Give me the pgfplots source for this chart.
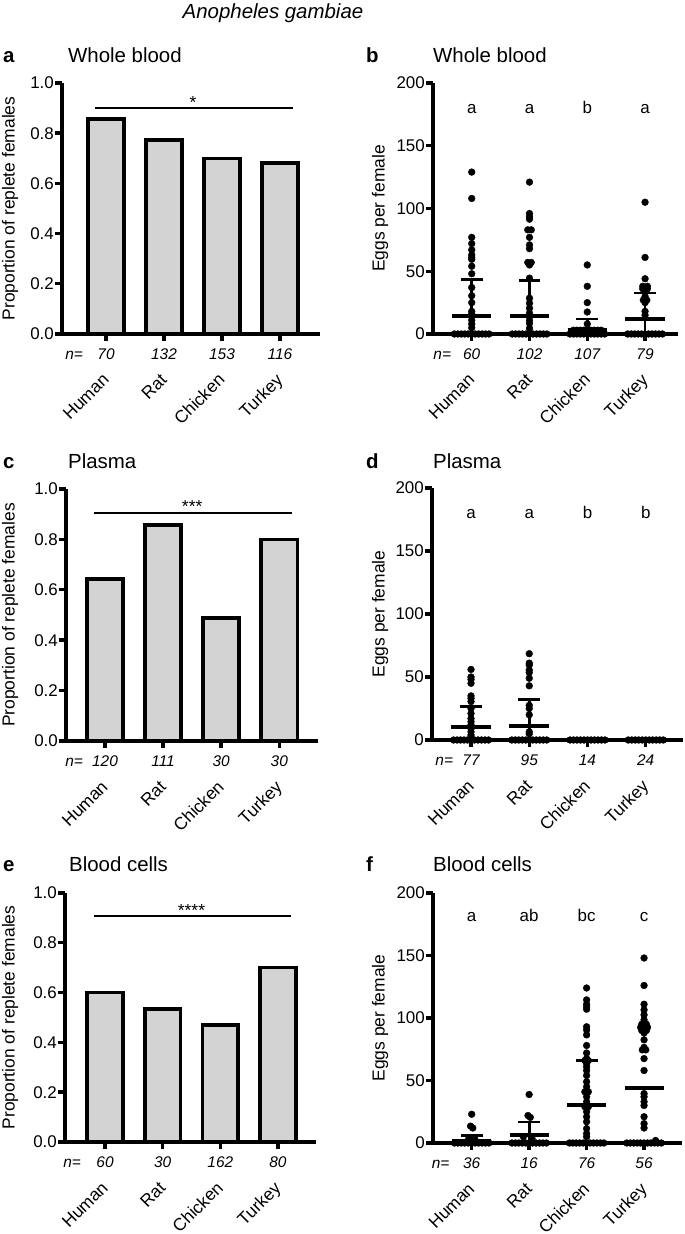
\documentclass[border=0pt]{standalone}
\usepackage{fontspec}
\setmainfont{Liberation Sans}
\usepackage{pgfplots}
\pgfplotsset{compat=1.18}
\definecolor{barfill}{RGB}{211,211,211}
\newcommand\tfont{\fontsize{17}{17}\selectfont}
\newcommand\lfont{\fontsize{17.5}{17.5}\selectfont}
\newcommand\nfont{\itshape\fontsize{15.5}{15.5}\selectfont}
\newcommand\ttlfont{\fontsize{20.5}{20.5}\selectfont}
\pgfplotsset{
 panel/.style={
  scale only axis, anchor=south west, axis lines=left,
  axis line style={line width=3.6bp, -},
  tick align=outside, major tick length=7bp,
  major tick style={black, line width=3.4bp},
  xtick={0,1,2,3}, xticklabels={Human,Rat,Chicken,Turkey},
  xticklabel style={font=\lfont, inner sep=0pt, xshift=4bp, yshift=-40bp, rotate=45, anchor=base east},
  yticklabel style={font=\tfont, inner sep=0pt, xshift=-1bp},
  ylabel style={font=\lfont, anchor=center},
  ymin=0, clip=false,
  /pgf/number format/assume math mode=true,
 },
 barpanel/.style={panel, ymax=1, ytick={0,0.2,0.4,0.6,0.8,1},
  yticklabel style={/pgf/number format/.cd, fixed, fixed zerofill, precision=1},
  ylabel={Proportion of replete females}},
 dotpanel/.style={panel, ymax=200, ytick={0,50,100,150,200}, ylabel={Eggs per female}},
 bars/.style={ybar, bar width=0.62, fill=barfill, draw=black, line width=3.6bp},
 dots/.style={only marks, mark=*, mark size=3.4bp, black},
 meanl/.style={black, line width=4bp, mark=none},
 sdl/.style={black, line width=2.8bp, mark=none},
 sigl/.style={black, line width=1.8bp, mark=none},
}
\begin{document}
\begin{tikzpicture}
\useasboundingbox (0,0) rectangle (685bp,1234bp);
\node[anchor=base, inner sep=0pt, font=\itshape\fontsize{20.5}{20.5}\selectfont] at (273bp,1215.7bp) {Anopheles gambiae};
% titles
\node[anchor=base west, inner sep=0pt, font=\bfseries\ttlfont] at (3bp,1171bp) {a};
\node[anchor=base west, inner sep=0pt, font=\ttlfont] at (68bp,1171bp) {Whole blood};
\node[anchor=base west, inner sep=0pt, font=\bfseries\ttlfont] at (366bp,1171bp) {b};
\node[anchor=base west, inner sep=0pt, font=\ttlfont] at (433bp,1171bp) {Whole blood};
\node[anchor=base west, inner sep=0pt, font=\bfseries\ttlfont] at (3bp,765.7bp) {c};
\node[anchor=base west, inner sep=0pt, font=\ttlfont] at (68bp,765.7bp) {Plasma};
\node[anchor=base west, inner sep=0pt, font=\bfseries\ttlfont] at (366bp,765.7bp) {d};
\node[anchor=base west, inner sep=0pt, font=\ttlfont] at (433bp,765.7bp) {Plasma};
\node[anchor=base west, inner sep=0pt, font=\bfseries\ttlfont] at (3bp,362.3bp) {e};
\node[anchor=base west, inner sep=0pt, font=\ttlfont] at (69bp,362.3bp) {Blood cells};
\node[anchor=base west, inner sep=0pt, font=\bfseries\ttlfont] at (366bp,362.3bp) {f};
\node[anchor=base west, inner sep=0pt, font=\ttlfont] at (433bp,362.3bp) {Blood cells};

% ---------------- a
\begin{axis}[barpanel, at={(62bp,900bp)}, width=258bp, height=251bp, xmin=-0.759, xmax=3.69,
  ylabel style={at={([xshift=-52bp]rel axis cs:0,0.5)}}]
\addplot[bars] coordinates {(0,0.857) (1,0.773) (2,0.699) (3,0.681)};
\addplot[sigl] coordinates {(-0.19,0.9) (3.22,0.9)};
\node[anchor=base, inner sep=0pt, font=\lfont] at (axis cs:1.5,0.9) {*};
\node[anchor=base, inner sep=0pt, font=\nfont] at ([yshift=-26bp]axis cs:-0.55,0) {n=};
\node[anchor=base, inner sep=0pt, font=\nfont] at ([yshift=-26bp]axis cs:0,0) {70};
\node[anchor=base, inner sep=0pt, font=\nfont] at ([yshift=-26bp]axis cs:1,0) {132};
\node[anchor=base, inner sep=0pt, font=\nfont] at ([yshift=-26bp]axis cs:2,0) {153};
\node[anchor=base, inner sep=0pt, font=\nfont] at ([yshift=-26bp]axis cs:3,0) {116};
\end{axis}

% ---------------- b
\begin{axis}[dotpanel, at={(433bp,900bp)}, width=245bp, height=251bp, xmin=-0.67, xmax=3.57,
  ylabel style={at={([xshift=-53bp]rel axis cs:0,0.5)}}]
\addplot[dots] coordinates {
 (0,129) (0,108) (0,77) (0,72) (0,67) (0,63) (0,61) (0,59.5) (0,54) (0,48) (0,37) (0,30.5) (0,25) (0,18) (0,16) (0,11) (0,8) (0,5)
 (-0.30,0) (-0.24,0) (-0.18,0) (-0.12,0) (-0.06,0) (0,0) (0.06,0) (0.12,0) (0.18,0) (0.24,0) (0.30,0)
 (1,121) (1,96) (1,93.5) (1,91.5) (0.97,83) (1.03,83) (1,77) (1,71) (1,68) (0.97,57) (1.03,57) (1,55) (1,44.5) (1,28.5) (1,24.5) (1,20.5) (1,16.5) (1,11) (1,8.5) (1,4.5)
 (0.70,0) (0.76,0) (0.82,0) (0.88,0) (0.94,0) (1,0) (1.06,0) (1.12,0) (1.18,0) (1.24,0) (1.30,0)
 (2,55) (2,38) (2,25) (2,17.5) (2,8)
 (1.70,0) (1.76,0) (1.82,0) (1.88,0) (1.94,0) (2,0) (2.06,0) (2.12,0) (2.18,0) (2.24,0) (2.30,0)
 (1.76,3) (1.82,3) (1.88,3) (1.94,3) (2,3) (2.06,3) (2.12,3) (2.18,3) (2.24,3)
 (3,105) (3,61) (3,44) (2.96,38) (3.04,38) (2.96,36) (3.04,36) (3,34) (3,30) (2.97,27) (3.03,27) (3,25) (3,18) (3,15)
 (2.70,0) (2.76,0) (2.82,0) (2.88,0) (2.94,0) (3,0) (3.06,0) (3.12,0) (3.18,0) (3.24,0) (3.30,0)
};
\addplot[meanl] coordinates {(-0.34,14.6) (0.34,14.6)};
\addplot[sdl] coordinates {(0,0) (0,43.2)};
\addplot[sdl] coordinates {(-0.19,43.2) (0.19,43.2)};
\addplot[meanl] coordinates {(0.66,14.3) (1.34,14.3)};
\addplot[sdl] coordinates {(1,0) (1,42.6)};
\addplot[sdl] coordinates {(0.81,42.6) (1.19,42.6)};
\addplot[meanl] coordinates {(1.66,3.3) (2.34,3.3)};
\addplot[sdl] coordinates {(2,0) (2,12)};
\addplot[sdl] coordinates {(1.81,12) (2.19,12)};
\addplot[meanl] coordinates {(2.66,11.7) (3.34,11.7)};
\addplot[sdl] coordinates {(3,0) (3,32.6)};
\addplot[sdl] coordinates {(2.81,32.6) (3.19,32.6)};
\node[anchor=base, inner sep=0pt, font=\tfont] at (axis cs:0,175.5) {a};
\node[anchor=base, inner sep=0pt, font=\tfont] at (axis cs:1,175.5) {a};
\node[anchor=base, inner sep=0pt, font=\tfont] at (axis cs:2,175.5) {b};
\node[anchor=base, inner sep=0pt, font=\tfont] at (axis cs:3,175.5) {a};
\node[anchor=base, inner sep=0pt, font=\nfont] at ([yshift=-26bp]axis cs:-0.51,0) {n=};
\node[anchor=base, inner sep=0pt, font=\nfont] at ([yshift=-26bp]axis cs:0,0) {60};
\node[anchor=base, inner sep=0pt, font=\nfont] at ([yshift=-26bp]axis cs:1,0) {102};
\node[anchor=base, inner sep=0pt, font=\nfont] at ([yshift=-26bp]axis cs:2,0) {107};
\node[anchor=base, inner sep=0pt, font=\nfont] at ([yshift=-26bp]axis cs:3,0) {79};
\end{axis}

% ---------------- c
\begin{axis}[barpanel, at={(66bp,493bp)}, width=252bp, height=252bp, xmin=-0.671, xmax=3.666,
  ylabel style={at={([xshift=-56bp]rel axis cs:0,0.5)}}]
\addplot[bars] coordinates {(0,0.642) (1,0.856) (2,0.487) (3,0.8)};
\addplot[sigl] coordinates {(-0.19,0.905) (3.22,0.905)};
\node[anchor=base, inner sep=0pt, font=\lfont] at (axis cs:1.5,0.905) {***};
\node[anchor=base, inner sep=0pt, font=\nfont] at ([yshift=-26bp]axis cs:-0.53,0) {n=};
\node[anchor=base, inner sep=0pt, font=\nfont] at ([yshift=-26bp]axis cs:0,0) {120};
\node[anchor=base, inner sep=0pt, font=\nfont] at ([yshift=-26bp]axis cs:1,0) {111};
\node[anchor=base, inner sep=0pt, font=\nfont] at ([yshift=-26bp]axis cs:2,0) {30};
\node[anchor=base, inner sep=0pt, font=\nfont] at ([yshift=-26bp]axis cs:3,0) {30};
\end{axis}

% ---------------- d
\begin{axis}[dotpanel, at={(432bp,494bp)}, width=251bp, height=252bp, xmin=-0.67, xmax=3.64,
  ylabel style={at={([xshift=-52bp]rel axis cs:0,0.5)}}]
\addplot[dots] coordinates {
 (0,56) (0,50) (0,48) (0,45) (0,35) (0,33) (0,30.5) (0,25) (0,21) (0,17) (0,14.5) (0,12) (0,9) (0,6.5) (0,4)
 (-0.30,0) (-0.24,0) (-0.18,0) (-0.12,0) (-0.06,0) (0,0) (0.06,0) (0.12,0) (0.18,0) (0.24,0) (0.30,0)
 (1,68.5) (1,61) (1,59.5) (1,55.5) (1,53.5) (1,49) (1,43) (1,27.5) (1,25) (1,20) (1,6.5) (1,5)
 (0.70,0) (0.76,0) (0.82,0) (0.88,0) (0.94,0) (1,0) (1.06,0) (1.12,0) (1.18,0) (1.24,0) (1.30,0)
 (1.70,0) (1.76,0) (1.82,0) (1.88,0) (1.94,0) (2,0) (2.06,0) (2.12,0) (2.18,0) (2.24,0) (2.30,0)
 (2.70,0) (2.76,0) (2.82,0) (2.88,0) (2.94,0) (3,0) (3.06,0) (3.12,0) (3.18,0) (3.24,0) (3.30,0)
};
\addplot[meanl] coordinates {(-0.34,10) (0.34,10)};
\addplot[sdl] coordinates {(0,0) (0,26.5)};
\addplot[sdl] coordinates {(-0.19,26.5) (0.19,26.5)};
\addplot[meanl] coordinates {(0.66,11.1) (1.34,11.1)};
\addplot[sdl] coordinates {(1,0) (1,32.2)};
\addplot[sdl] coordinates {(0.81,32.2) (1.19,32.2)};
\node[anchor=base, inner sep=0pt, font=\tfont] at (axis cs:0,175.5) {a};
\node[anchor=base, inner sep=0pt, font=\tfont] at (axis cs:1,175.5) {a};
\node[anchor=base, inner sep=0pt, font=\tfont] at (axis cs:2,175.5) {b};
\node[anchor=base, inner sep=0pt, font=\tfont] at (axis cs:3,175.5) {b};
\node[anchor=base, inner sep=0pt, font=\nfont] at ([yshift=-26bp]axis cs:-0.46,0) {n=};
\node[anchor=base, inner sep=0pt, font=\nfont] at ([yshift=-26bp]axis cs:0,0) {77};
\node[anchor=base, inner sep=0pt, font=\nfont] at ([yshift=-26bp]axis cs:1,0) {95};
\node[anchor=base, inner sep=0pt, font=\nfont] at ([yshift=-26bp]axis cs:2,0) {14};
\node[anchor=base, inner sep=0pt, font=\nfont] at ([yshift=-26bp]axis cs:3,0) {24};
\end{axis}

% ---------------- e
\begin{axis}[barpanel, at={(65bp,92bp)}, width=251bp, height=249bp, xmin=-0.694, xmax=3.66,
  ylabel style={at={([xshift=-55bp]rel axis cs:0,0.5)}}]
\addplot[bars] coordinates {(0,0.6) (1,0.533) (2,0.469) (3,0.7)};
\addplot[sigl] coordinates {(-0.19,0.907) (3.22,0.907)};
\node[anchor=base, inner sep=0pt, font=\lfont] at (axis cs:1.5,0.907) {****};
\node[anchor=base, inner sep=0pt, font=\nfont] at ([yshift=-26bp]axis cs:-0.57,0) {n=};
\node[anchor=base, inner sep=0pt, font=\nfont] at ([yshift=-26bp]axis cs:0,0) {60};
\node[anchor=base, inner sep=0pt, font=\nfont] at ([yshift=-26bp]axis cs:1,0) {30};
\node[anchor=base, inner sep=0pt, font=\nfont] at ([yshift=-26bp]axis cs:2,0) {162};
\node[anchor=base, inner sep=0pt, font=\nfont] at ([yshift=-26bp]axis cs:3,0) {80};
\end{axis}

% ---------------- f
\begin{axis}[dotpanel, at={(433bp,91bp)}, width=249bp, height=250bp, xmin=-0.673, xmax=3.66,
  ylabel style={at={([xshift=-53bp]rel axis cs:0,0.5)}}]
\addplot[dots] coordinates {
 (0,23) (-0.02,13.5) (0.02,12) (-0.06,2.5) (0.06,2.5)
 (-0.30,0) (-0.24,0) (-0.18,0) (-0.12,0) (-0.06,0) (0,0) (0.06,0) (0.12,0) (0.18,0) (0.24,0) (0.30,0)
 (1,38.8) (0.98,22) (1.02,20.5) (0.9,5) (1.05,3.5)
 (0.70,0) (0.76,0) (0.82,0) (0.88,0) (0.94,0) (1,0) (1.06,0) (1.12,0) (1.18,0) (1.24,0) (1.30,0)
 (2,124) (2,114.5) (2,111) (2,109) (2,107) (2,93) (2,90.5) (2,86.5) (2,78) (2,72) (2,67.5) (1.97,66) (2.03,66) (2,63.5) (2,61) (2,58) (2,54) (2,49) (2,45) (1.97,41) (2.03,41) (2,37) (2,33) (1.97,29) (2.03,29) (2,25) (2,21) (2,17) (2,11.5) (2,7.5) (2,5)
 (1.70,0) (1.76,0) (1.82,0) (1.88,0) (1.94,0) (2,0) (2.06,0) (2.12,0) (2.18,0) (2.24,0) (2.30,0)
 (3,148) (3,126) (3,111) (3,106.5) (3,102.5) (3,98.5) (2.96,95) (3.04,95) (2.94,92.5) (3,92.5) (3.06,92.5) (2.96,90) (3.04,90) (3,88) (3,82.5) (3,76.5) (2.97,74.5) (3.03,74.5) (3,67.5) (3,58) (3,39.5) (3,37) (3,33) (3,30) (3,21) (3,15.5) (3,12)
 (2.70,0) (2.76,0) (2.82,0) (2.88,0) (2.94,0) (3,0) (3.06,0) (3.12,0) (3.18,0) (3.24,0) (3.30,0) (3.2,2)
};
\addplot[meanl] coordinates {(-0.34,1.6) (0.34,1.6)};
\addplot[sdl] coordinates {(0,0) (0,6)};
\addplot[sdl] coordinates {(-0.19,6) (0.19,6)};
\addplot[meanl] coordinates {(0.66,6.1) (1.34,6.1)};
\addplot[sdl] coordinates {(1,0) (1,16.8)};
\addplot[sdl] coordinates {(0.81,16.8) (1.19,16.8)};
\addplot[meanl] coordinates {(1.66,30.2) (2.34,30.2)};
\addplot[sdl] coordinates {(2,0) (2,66)};
\addplot[sdl] coordinates {(1.81,66) (2.19,66)};
\addplot[meanl] coordinates {(2.66,44.1) (3.34,44.1)};
\node[anchor=base, inner sep=0pt, font=\tfont] at (axis cs:0,177) {a};
\node[anchor=base, inner sep=0pt, font=\tfont] at (axis cs:1,177) {ab};
\node[anchor=base, inner sep=0pt, font=\tfont] at (axis cs:2,177) {bc};
\node[anchor=base, inner sep=0pt, font=\tfont] at (axis cs:3,177) {c};
\node[anchor=base, inner sep=0pt, font=\nfont] at ([yshift=-26bp]axis cs:-0.54,0) {n=};
\node[anchor=base, inner sep=0pt, font=\nfont] at ([yshift=-26bp]axis cs:0,0) {36};
\node[anchor=base, inner sep=0pt, font=\nfont] at ([yshift=-26bp]axis cs:1,0) {16};
\node[anchor=base, inner sep=0pt, font=\nfont] at ([yshift=-26bp]axis cs:2,0) {76};
\node[anchor=base, inner sep=0pt, font=\nfont] at ([yshift=-26bp]axis cs:3,0) {56};
\end{axis}
\end{tikzpicture}
\end{document}
